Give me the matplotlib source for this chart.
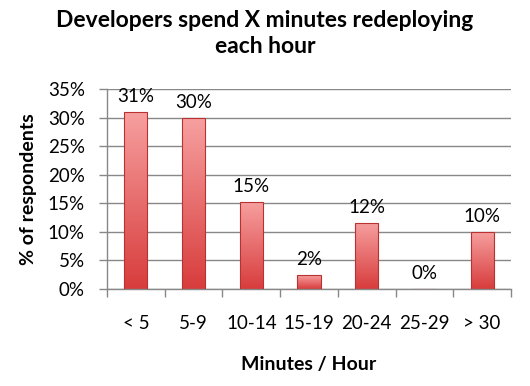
import numpy as np
import matplotlib.pyplot as plt
from matplotlib.colors import LinearSegmentedColormap

categories = ["< 5", "5-9", "10-14", "15-19", "20-24", "25-29", "> 30"]
values = [31.0, 29.9, 15.3, 2.4, 11.6, 0.0, 10.0]
labels = ["31%", "30%", "15%", "2%", "12%", "0%", "10%"]
yticks = [0, 5, 10, 15, 20, 25, 30, 35]

plt.rcParams['font.family'] = ['Lato', 'DejaVu Sans']

fig = plt.figure(figsize=(5.3, 3.86), dpi=100)
ax = fig.add_axes([107/530, 1-289/386, 404/530, 200/386])

grad = LinearSegmentedColormap.from_list("redgrad", ["#d83c3c", "#f7a0a0"])
x = np.arange(len(categories))
bars = ax.bar(x, values, width=0.4, color="none", edgecolor="#b83232",
              linewidth=0.8, zorder=3)
g = np.linspace(0, 1, 256).reshape(-1, 1)
for b in bars:
    if b.get_height() <= 0:
        continue
    im = ax.imshow(g, cmap=grad, origin="lower", aspect="auto", zorder=2,
                   extent=[b.get_x(), b.get_x() + b.get_width(), 0, b.get_height()])
    im.set_clip_path(b)

for xi, v, lab in zip(x, values, labels):
    ax.text(xi, v + 1.2, lab, ha="center", va="bottom", fontsize=13.5, zorder=4)

ax.set_xlim(-0.5, len(categories) - 0.5)
ax.set_ylim(0, 35)
ax.set_yticks(yticks)
ax.set_yticklabels([f"{t}%" for t in yticks], fontsize=13.5)
ax.set_xticks(x)
ax.set_xticklabels(categories, fontsize=13.5)
ax.set_xticks(np.arange(len(categories) + 1) - 0.5, minor=True)
ax.tick_params(axis="x", which="major", length=0, pad=19)
ax.tick_params(axis="x", which="minor", length=6, color="#888888", width=1)
ax.tick_params(axis="y", length=6, color="#888888", width=1, pad=10)
ax.yaxis.grid(True, color="#888888", linewidth=1)
ax.set_axisbelow(True)
for s in ["top", "right"]:
    ax.spines[s].set_visible(False)
for s in ["left", "bottom"]:
    ax.spines[s].set_color("#888888")
    ax.spines[s].set_linewidth(1)

ax.set_ylabel("% of respondents", fontsize=14, fontweight="bold", labelpad=8)
ax.set_xlabel("Minutes / Hour", fontsize=14, fontweight="bold", labelpad=17)
fig.suptitle("Developers spend X minutes redeploying\neach hour", fontsize=16.5,
             fontweight="bold", y=0.975, linespacing=1.3)

fig.savefig("out.png", dpi=100)
